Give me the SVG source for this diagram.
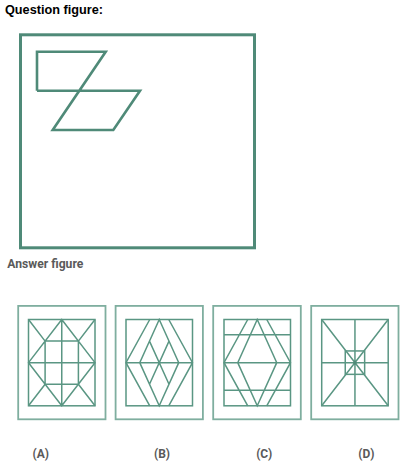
<svg xmlns="http://www.w3.org/2000/svg" width="414" height="471" viewBox="0 0 414 471">
<style>
.title{font-family:"Liberation Sans",Arial,sans-serif;font-weight:bold;font-size:13.5px;fill:#000}
.sub{font-family:Roboto,"Liberation Sans",sans-serif;font-weight:bold;font-size:12.5px;fill:#5a5a5a}
.lab{font-family:Roboto,"Liberation Sans",sans-serif;font-weight:bold;font-size:12px;fill:#5a5a5a;text-anchor:middle}
.q{fill:none;stroke:#4f8a78;stroke-width:3;stroke-linejoin:miter}
.qz{fill:none;stroke:#4f8a78;stroke-width:2.6;stroke-linejoin:miter}
.fo{fill:none;stroke:#7fae9f;stroke-width:1.8}
.fl{fill:none;stroke:#5a9683;stroke-width:1.5}
</style>
<rect width="414" height="471" fill="#fff"/>
<text class="title" x="5" y="13.5" textLength="98" lengthAdjust="spacingAndGlyphs">Question figure:</text>
<g id="question">
<rect class="q" x="20.5" y="34.8" width="234" height="213"/>
<path class="qz" d="M37,90.7 V51.7 H105.7 L52.7,130 H113.3 L140,90.7 H37"/>
</g>
<text class="sub" x="7.3" y="268.3" textLength="76" lengthAdjust="spacingAndGlyphs">Answer figure</text>
<g id="figA">
<rect class="fo" x="18.2" y="305.9" width="87.3" height="113.4"/>
<rect class="fl" x="28.5" y="319.5" width="66.5" height="86.3"/>
<path class="fl" d="M61.75,319.5 V405.8 M28.5,362.65 H95 M61.75,319.5 L95,362.65 L61.75,405.8 L28.5,362.65 Z M45.1,341.1 H78.4 V384.2 H45.1 Z M28.5,319.5 L45.1,341.1 M95,319.5 L78.4,341.1 M28.5,405.8 L45.1,384.2 M95,405.8 L78.4,384.2"/>
</g>
<g id="figB">
<rect class="fo" x="115.6" y="305.9" width="87.3" height="113.4"/>
<rect class="fl" x="126" y="319.5" width="66.5" height="86.3"/>
<path class="fl" d="M126,362.65 H192.5 M159.25,319.5 L139.75,362.65 L159.25,405.8 L178.75,362.65 Z M149.5,341.1 L169,384.2 M169,341.1 L149.5,384.2 M149.75,319.5 L126,362.65 L149.75,405.8 M168.75,319.5 L192.5,362.65 L168.75,405.8"/>
</g>
<g id="figC">
<rect class="fo" x="213.2" y="305.9" width="87.6" height="113.4"/>
<rect class="fl" x="224" y="319.5" width="66.5" height="86.3"/>
<path class="fl" d="M224,334.8 H290.5 M224,362.65 H290.5 M224,390.3 H290.5 M257.25,319.5 L237.75,362.65 L257.25,405.8 L276.75,362.65 Z M247.75,319.5 L224,362.65 L247.75,405.8 M266.75,319.5 L290.5,362.65 L266.75,405.8"/>
</g>
<g id="figD">
<rect class="fo" x="311.2" y="305.9" width="87.3" height="113.4"/>
<rect class="fl" x="321.7" y="319.5" width="66.5" height="86.3"/>
<path class="fl" d="M354.95,319.5 V405.8 M321.7,362.65 H388.2 M321.7,319.5 L388.2,405.8 M388.2,319.5 L321.7,405.8"/>
<rect class="fl" x="345.25" y="350.95" width="19.4" height="23.4"/>
<circle cx="354.95" cy="362.65" r="1.6" fill="#4f8a78"/>
</g>
<g id="labels">
<text class="lab" x="40.7" y="457.5">(A)</text>
<text class="lab" x="162" y="457.5">(B)</text>
<text class="lab" x="264.2" y="457.5">(C)</text>
<text class="lab" x="366.3" y="457.5">(D)</text>
</g>
</svg>
